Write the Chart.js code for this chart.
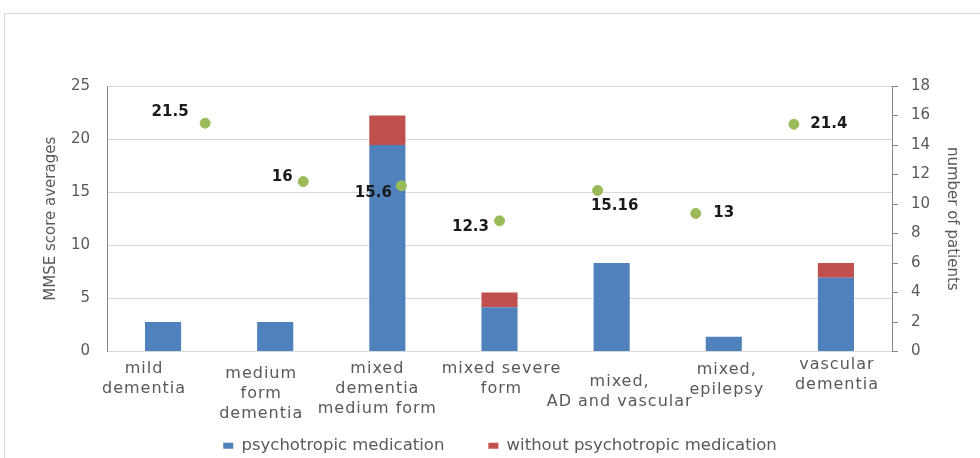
<!DOCTYPE html>
<html>
<head>
<meta charset="utf-8">
<script src="https://cdn.jsdelivr.net/npm/chart.js@4/dist/chart.umd.min.js"></script>
<style>
  html, body { margin: 0; padding: 0; background: #ffffff; }
  #wrap { position: relative; width: 980px; height: 458px; overflow: hidden; }
  #frame { position: absolute; left: 4px; top: 13px; width: 1000px; height: 500px; border: 1px solid #d9d9d9; }
  #c { position: absolute; left: 0; top: 0; }
</style>
</head>
<body>
<div id="wrap">
  <div id="frame"></div>
  <canvas id="c" width="980" height="458"></canvas>
</div>
<script>
// Diagnostic groups (multi-line category labels)
const categories = [
  ["mild", "dementia"],
  ["medium", "form", "dementia"],
  ["mixed", "dementia", "medium form"],
  ["mixed severe", "form"],
  ["mixed,", "AD and vascular"],
  ["mixed,", "epilepsy"],
  ["vascular", "dementia"]
];

// Number of patients per group (right axis)
const psychotropic = [2, 2, 14, 3, 6, 1, 5];
const withoutPsychotropic = [null, null, 2, 1, null, null, 1];

// MMSE score averages per group (left axis)
const mmseAverages = [21.5, 16, 15.6, 12.3, 15.16, 13, 21.4];

// Axis ranges
const mmseTicks = [0, 5, 10, 15, 20, 25];
const patientTicks = [0, 2, 4, 6, 8, 10, 12, 14, 16, 18];

// Where each MMSE value label sits relative to its point (px)
const labelOffsets = [[-35, -11], [-21, -4], [-28, 7], [-29, 6], [17, 16], [28, 0], [35, 0]];
// Nudge of each category label block [dx, dy] (px)
const categoryLabelShift = [[-19, -5], [-14, 0], [-10, -5], [2, -5], [8, 8], [3, -4], [1, -9]];

const FONT = "'DejaVu Sans', sans-serif";
const GREY_TEXT = '#595959';

// Bold value labels next to the MMSE points
const mmseLabels = {
  id: 'mmseLabels',
  afterDatasetsDraw(chart) {
    const meta = chart.getDatasetMeta(2);
    const ctx = chart.ctx;
    ctx.save();
    ctx.font = "bold 15px " + FONT;
    ctx.fillStyle = '#1a1a1a';
    ctx.textAlign = 'center';
    ctx.textBaseline = 'middle';
    meta.data.forEach((pt, i) => {
      const [dx, dy] = labelOffsets[i];
      ctx.fillText(String(mmseAverages[i]), pt.x + dx, pt.y + dy);
    });
    ctx.restore();
  }
};

// Spaced-out, individually nudged category labels on the x axis
const categoryLabelStyle = {
  id: 'categoryLabelStyle',
  beforeDraw(chart) {
    const sc = chart.scales.x;
    if (!sc || sc._styled) return;
    sc._styled = true;
    const getItems = sc.getLabelItems.bind(sc);
    sc.getLabelItems = function (area) {
      return getItems(area).map((item, i) => {
        const t = item.options.translation;
        const [dx, dy] = categoryLabelShift[i] || [0, 0];
        return Object.assign({}, item, {
          options: Object.assign({}, item.options, { translation: [t[0] + dx, t[1] + dy] })
        });
      });
    };
    sc._computeLabelArea = function () { return undefined; };
    const drawLabels = sc.drawLabels.bind(sc);
    sc.drawLabels = function (area) {
      const ctx = this.ctx;
      ctx.save();
      ctx.letterSpacing = '1px';
      drawLabels(area);
      ctx.restore();
    };
  }
};

new Chart(document.getElementById('c'), {
  type: 'bar',
  data: {
    labels: categories,
    datasets: [
      {
        label: 'psychotropic medication',
        data: psychotropic,
        backgroundColor: '#4F81BD',
        xAxisID: 'x',
        yAxisID: 'y1',
        grouped: false,
        order: 1,
        categoryPercentage: 1,
        barPercentage: 0.322
      },
      {
        label: 'without psychotropic medication',
        data: withoutPsychotropic,
        backgroundColor: '#C0504D',
        xAxisID: 'x',
        yAxisID: 'y1',
        grouped: false,
        order: 1,
        categoryPercentage: 1,
        barPercentage: 0.322
      },
      {
        type: 'scatter',
        label: 'MMSE score averages',
        data: mmseAverages.map((v, i) => ({ x: i + 1, y: v })),
        backgroundColor: '#9BBB59',
        borderColor: '#9BBB59',
        pointRadius: 5,
        pointHoverRadius: 5,
        showLine: false,
        xAxisID: 'x2',
        yAxisID: 'y',
        order: 0
      }
    ]
  },
  options: {
    responsive: false,
    animation: false,
    events: [],
    layout: { padding: { left: 30, right: 10, top: 86, bottom: -6 } },
    plugins: {
      tooltip: { enabled: false },
      legend: {
        position: 'bottom',
        labels: {
          filter: item => item.datasetIndex < 2,
          color: GREY_TEXT,
          font: { family: FONT, size: 16.5 },
          boxWidth: 10,
          boxHeight: 6,
          padding: 44
        }
      }
    },
    scales: {
      x: {
        type: 'category',
        stacked: true,
        grid: { display: false },
        border: { display: true, color: '#d9d9d9' },
        ticks: {
          color: GREY_TEXT,
          font: { family: FONT, size: 16, lineHeight: 1.25 },
          maxRotation: 0,
          autoSkip: false,
          padding: 4
        },
        afterFit: s => { s.height = 42; }
      },
      x2: {
        type: 'linear',
        min: 0,
        max: 8,
        offset: false,
        display: false
      },
      y: {
        position: 'left',
        min: mmseTicks[0],
        max: mmseTicks[mmseTicks.length - 1],
        afterBuildTicks: s => { s.ticks = mmseTicks.map(v => ({ value: v })); },
        grid: { color: '#d9d9d9', drawTicks: false },
        border: { display: true, color: '#868686' },
        ticks: { color: GREY_TEXT, font: { family: FONT, size: 15 }, padding: 17 },
        title: {
          display: true,
          text: 'MMSE score averages',
          color: GREY_TEXT,
          font: { family: FONT, size: 15 },
          padding: { top: 12, bottom: 0 }
        },
        afterFit: s => { s.width = 77; }
      },
      y1: {
        position: 'right',
        stacked: true,
        min: patientTicks[0],
        max: patientTicks[patientTicks.length - 1],
        afterBuildTicks: s => { s.ticks = patientTicks.map(v => ({ value: v })); },
        grid: { drawOnChartArea: false, color: '#868686', tickLength: 6 },
        border: { display: true, color: '#868686' },
        ticks: { color: GREY_TEXT, font: { family: FONT, size: 15 }, padding: 13 },
        title: {
          display: true,
          text: 'number of patients',
          color: GREY_TEXT,
          font: { family: FONT, size: 15 },
          padding: { top: 9, bottom: 0 }
        },
        afterFit: s => { s.width = 78; }
      }
    }
  },
  plugins: [mmseLabels, categoryLabelStyle]
});
</script>
</body>
</html>
